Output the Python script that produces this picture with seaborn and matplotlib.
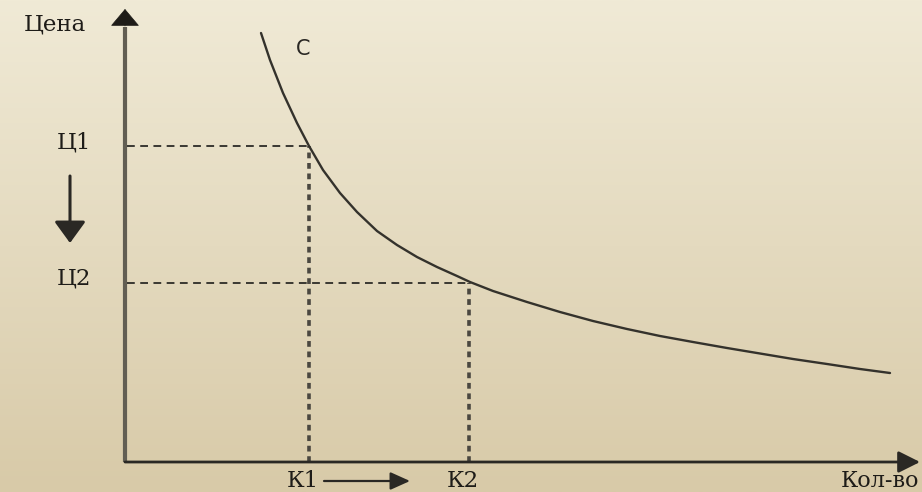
import numpy as np
import matplotlib
matplotlib.use('Agg')
import matplotlib.pyplot as plt
from matplotlib.colors import LinearSegmentedColormap
import seaborn as sns

# кривая C
qty = [13.6, 14.5, 15.8, 17.2, 18.4, 19.8, 21.5, 23.2, 25.2, 27.2, 29.2, 31.2, 33.2, 34.5,
       36.8, 40.2, 43.5, 46.8, 50.2, 53.5, 56.8, 60.2, 63.5, 66.8, 70.2, 73.5, 76.5]
price = [42.9, 40.2, 36.9, 33.9, 31.6, 29.2, 26.9, 25.0, 23.1, 21.7, 20.5, 19.5, 18.6, 18.0,
         17.1, 16.0, 15.0, 14.1, 13.3, 12.6, 12.0, 11.4, 10.85, 10.3, 9.8, 9.3, 8.9]

# точки Ц1/К1 и Ц2/К2
k_vals = [18.4, 34.4]
c_vals = [31.6, 17.9]
k_labels = ['К1', 'К2']
c_labels = ['Ц1', 'Ц2']

sns.set_theme(style='white')
plt.rcParams['font.family'] = ['DejaVu Serif', 'Liberation Serif']

fig = plt.figure(figsize=(9.22, 4.92), dpi=100)
ax = fig.add_axes([0, 0, 1, 1])
ax.set_xlim(-12.5, 79.7)
ax.set_ylim(-3.0, 46.2)
ax.axis('off')

# фон - градиент
bg = LinearSegmentedColormap.from_list('bg', ['#d8caa8', '#f0ead6'])
grad = np.linspace(0, 1, 256).reshape(-1, 1)
ax.imshow(grad, aspect='auto', cmap=bg, origin='lower',
          extent=[-12.5, 79.7, -3.0, 46.2], zorder=0)

# оси
ax.plot([0, 0], [0, 43.5], color='#625e53', lw=3.0, solid_capstyle='butt', zorder=2)
ax.annotate('', xy=(0, 45.3), xytext=(0, 43.6),
            arrowprops=dict(arrowstyle='-|>,head_length=0.95,head_width=0.8',
                            color='#1e1c18', lw=0.5, shrinkA=0, shrinkB=0))
ax.annotate('', xy=(79.5, 0), xytext=(0, 0),
            arrowprops=dict(arrowstyle='-|>,head_length=1.1,head_width=0.55',
                            color='#2a2824', lw=2.0, shrinkA=0, shrinkB=0))

# кривая
sns.lineplot(x=qty, y=price, ax=ax, color='#34322c', lw=1.7, sort=False, zorder=3,
             solid_joinstyle='round', solid_capstyle='round')

# пунктир
for k, c in zip(k_vals, c_vals):
    ax.plot([0.2, k], [c, c], ls=(0, (4, 2.8)), color='#3a3832', lw=1.4, zorder=2)
    ax.plot([k, k], [0, c], ls=(0, (1.6, 1.3)), color='#4a4740', lw=2.6, zorder=2)

# подписи
ax.text(-7.0, 43.7, 'Цена', fontsize=16.5, ha='center', va='center', color='#1e1c18')
ax.text(17.8, 41.3, 'C', fontsize=15, ha='center', va='center', color='#2a2824',
        family=['DejaVu Sans'])
for c, lab in zip(c_vals, c_labels):
    ax.text(-5.1, c + 0.4, lab, fontsize=16.5, ha='center', va='center', color='#1e1c18')
for k, lab in zip(k_vals, k_labels):
    ax.text(k - 0.6, -1.9, lab, fontsize=16.5, ha='center', va='center', color='#1e1c18')
ax.text(75.5, -1.9, 'Кол-во', fontsize=16, ha='center', va='center', color='#1e1c18')

# стрелки
ax.annotate('', xy=(-5.5, 21.9), xytext=(-5.5, 28.6),
            arrowprops=dict(arrowstyle='-|>,head_length=1.1,head_width=0.8',
                            color='#2a2824', lw=2.2, shrinkA=0, shrinkB=0))
ax.annotate('', xy=(28.5, -1.9), xytext=(19.9, -1.9),
            arrowprops=dict(arrowstyle='-|>,head_length=1.0,head_width=0.45',
                            color='#2a2824', lw=1.6, shrinkA=0, shrinkB=0))

fig.savefig('out.png', dpi=100)
